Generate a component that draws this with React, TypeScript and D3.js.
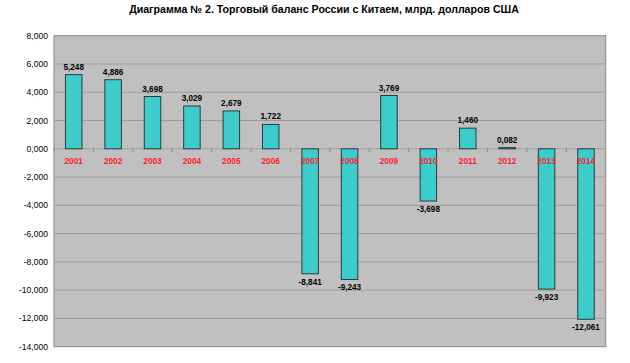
import React from 'react';
import * as d3 from 'd3';

const years = ['2001', '2002', '2003', '2004', '2005', '2006', '2007', '2008', '2009', '2010', '2011', '2012', '2013', '2014'];
const balance = [5.248, 4.886, 3.698, 3.029, 2.679, 1.722, -8.841, -9.243, 3.769, -3.698, 1.46, 0.082, -9.923, -12.061];
const yTicks = [8, 6, 4, 2, 0, -2, -4, -6, -8, -10, -12, -14];

const W = 630;
const H = 363;
const plot = { left: 54, right: 605.7, top: 35.7, bottom: 346.7 };

const fmt = (v: number) => d3.format('.3f')(v).replace('.', ',').replace('−', '-');

const App: React.FC = () => {
  const x = d3.scaleBand<string>().domain(years).range([plot.left, plot.right]).paddingInner(0).paddingOuter(0);
  const y = d3.scaleLinear().domain([-14, 8]).range([plot.bottom, plot.top]);
  const barW = 16.5;
  const y0 = y(0);
  const font = 'Arial, "Liberation Sans", sans-serif';

  return (
    <svg width={W} height={H} style={{ position: 'absolute', left: 0, top: 0 }} fontFamily={font}>
      <rect width={W} height={H} fill="#ffffff" />
      <text x={324} y={13} textAnchor="middle" fontSize={10.6} fontWeight="bold" fill="#000">
        Диаграмма № 2. Торговый баланс России с Китаем, млрд. долларов США
      </text>

      {/* plot area */}
      <rect x={plot.left} y={plot.top} width={plot.right - plot.left} height={plot.bottom - plot.top}
        fill="#c0c0c0" stroke="#858585" strokeWidth={1} />

      {yTicks.map((t) => (
        <g key={t}>
          {t !== 8 && t !== -14 && (
            <line x1={plot.left} x2={plot.right} y1={y(t)} y2={y(t)} stroke="#9c9c9c" strokeWidth={1} />
          )}
          <text x={48} y={y(t) + 3} textAnchor="end" fontSize={8.6} fill="#000">{fmt(t)}</text>
        </g>
      ))}

      {/* zero axis tick marks */}
      {years.map((yr) => (
        <line key={yr} x1={x(yr)!} x2={x(yr)!} y1={y0 - 1} y2={y0 + 3} stroke="#8a8a8a" strokeWidth={1} />
      ))}

      {years.map((yr, i) => {
        const v = balance[i];
        const cx = x(yr)! + x.bandwidth() / 2;
        const top = Math.min(y(v), y0);
        const h = Math.max(Math.abs(y(v) - y0), 1);
        return (
          <g key={yr}>
            <rect x={cx - barW / 2} y={top} width={barW} height={h} fill="#3dcccc" stroke="#2b3b3b" strokeWidth={1} />
            <text x={cx} y={v >= 0 ? y(v) - 5 : y(v) + 11} textAnchor="middle" fontSize={8.2} fontWeight="bold" fill="#000">
              {fmt(v)}
            </text>
          </g>
        );
      })}

      {years.map((yr) => (
        <text key={'l' + yr} x={x(yr)! + x.bandwidth() / 2} y={y0 + 15} textAnchor="middle" fontSize={8.3} fontWeight="bold" fill="#ff1a2e">
          {yr}
        </text>
      ))}
    </svg>
  );
};

export default App;
